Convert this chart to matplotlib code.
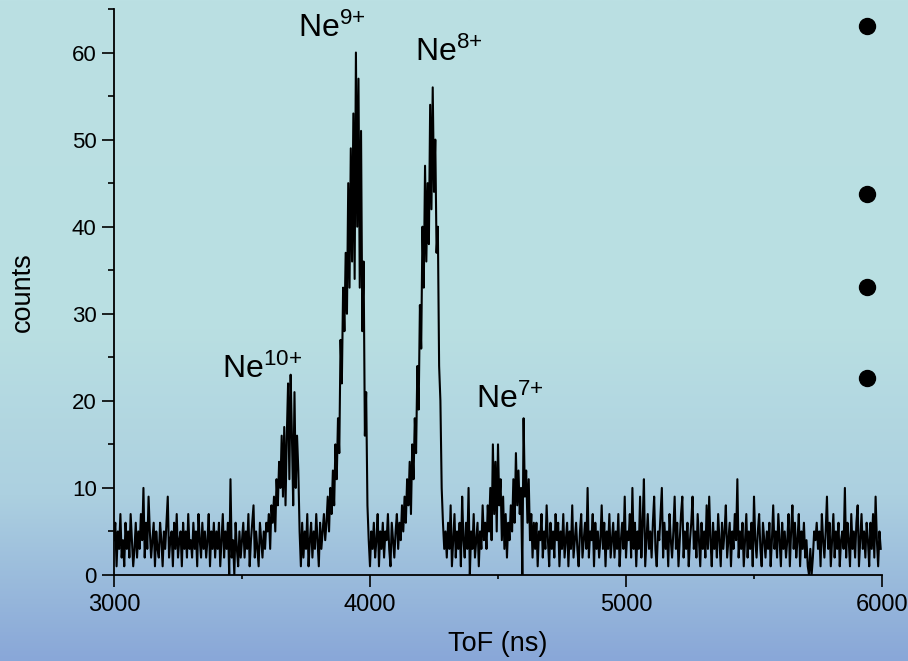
import numpy as np
import matplotlib
matplotlib.use("Agg")
import matplotlib.pyplot as plt
from matplotlib.colors import LinearSegmentedColormap

plt.rcParams["font.family"] = ["Liberation Sans", "DejaVu Sans"]
plt.rcParams["mathtext.fontset"] = "custom"
plt.rcParams["mathtext.rm"] = "Liberation Sans"
plt.rcParams["mathtext.it"] = "Liberation Sans:italic"

# spectre temps de vol, pas de 5 ns a partir de 3000 ns
TOF_START = 3000
TOF_STEP = 5

base_a = [4, 6, 1, 5, 3, 7, 2, 4, 1, 6, 3, 5, 2, 7, 4, 1, 3, 6, 2, 5,
          3, 7, 4, 10, 2, 6, 3, 9, 5, 2, 4, 6, 1, 5, 3, 2, 6, 4, 1, 5,
          3, 6, 9, 2, 4, 5, 1, 6, 3, 7, 2, 4, 5, 1, 6, 3, 5, 2, 7, 3,
          4, 2, 6, 3, 5, 1, 7, 4, 2, 6, 3, 5, 2, 4, 7, 1, 5, 3, 6, 2,
          5, 3, 6, 1, 4, 7, 2, 5, 3, 6, 0, 11, 2, 4, 0, 6, 3, 1, 5, 2,
          4, 6, 2, 5, 3, 7, 1, 4, 6, 8, 2, 5, 3, 1, 6, 4, 2, 5, 3, 6]
ne10 = [5, 7, 3, 8, 6, 9, 5, 11, 8, 13, 10, 16, 9, 17, 8, 16, 22, 11, 23, 16,
        8, 21, 10, 16, 12, 5, 1, 6]
base_b = [2, 5, 3, 7, 1, 4, 6, 2, 5, 3, 7, 4, 1, 6, 3, 5, 7, 4]
ne9 = [6, 9, 5, 10, 7, 12, 8, 15, 11, 18, 14, 27, 22, 33, 28, 37, 30, 45, 33, 49,
       36, 53, 34, 60, 40, 57, 33, 51, 28, 36, 16, 21, 8, 4]
base_c = [1, 5, 3, 6, 2, 4, 7, 1, 5, 3, 6, 2, 5, 4, 7, 3, 1, 6, 4, 2,
          5, 7, 3, 6, 4, 8]
ne8 = [5, 9, 6, 11, 8, 13, 7, 15, 11, 18, 14, 24, 19, 31, 26, 40, 33, 47, 36, 45,
       38, 54, 42, 56, 44, 50, 37, 40, 24, 20, 10, 6, 3]
base_d = [5, 2, 6, 3, 8, 1, 4, 7, 2, 5, 3, 6, 1, 9, 4, 2, 6, 3, 10, 0,
          5, 3, 7, 2, 4, 6, 1, 5, 3, 8, 4]
ne7 = [6, 3, 8, 5, 10, 4, 15, 7, 13, 5, 15, 8, 11, 4, 9, 3, 7, 2, 6, 4,
       8, 5, 11, 6, 14, 8, 12, 7, 10, 0, 18, 9, 12, 6, 11, 4, 7, 2, 6]
base_e = [3, 6, 1, 5, 4, 7, 2, 5, 3, 8, 4, 1, 6, 3, 5, 2, 7, 4, 6, 1,
          5, 3, 7, 2, 4, 6, 1, 5, 3, 8, 2, 4, 6, 3, 1, 5, 7, 2, 4, 6,
          3, 10, 2, 5, 4, 7, 1, 6, 3, 5, 2, 4, 8, 3, 6, 1, 5, 3, 7, 2,
          4, 6, 2, 5, 3, 7, 1, 4, 6, 3, 9, 2, 5, 4, 7, 2, 10, 3, 6, 1,
          5, 3, 9, 2, 6, 11, 1, 4, 7, 3, 5, 2, 6, 9, 3, 1, 5, 4, 7, 10,
          2, 6, 3, 5, 1, 7, 4, 2, 5, 9, 3, 6, 1, 4, 7, 9, 2, 5, 3, 6,
          1, 4, 6, 9, 3, 5, 2, 7, 4, 1, 6, 3, 5, 2, 8, 3, 9, 4, 1, 6,
          3, 5, 2, 7, 4, 1, 6, 3, 5, 8, 2, 4, 6, 1, 5, 3, 7, 4, 11, 2,
          5, 3, 6, 1, 4, 7, 2, 5, 3, 6, 1, 9, 4, 2, 5, 7, 3, 1, 6, 4,
          2, 5, 3, 6, 1, 4, 8, 3, 5, 2, 7, 4, 1, 6, 3, 5, 2, 4, 7, 1,
          5, 8, 3, 6, 2, 4, 7, 1, 5, 3, 6, 2, 4, 1, 0, 3, 0, 2, 5, 4,
          6, 3, 5, 1, 7, 4, 2, 5, 9, 3, 6, 1, 4, 7, 2, 5, 3, 6, 1, 4,
          5, 3, 10, 2, 6, 4, 1, 7, 3, 5, 2, 6, 8, 1, 4, 7, 3, 5, 2, 6,
          4, 1, 6, 3, 7, 2, 9, 4, 1, 5, 3]

counts = np.array(base_a + ne10 + base_b + ne9 + base_c + ne8 + base_d + ne7 + base_e)
tof = TOF_START + TOF_STEP * np.arange(len(counts))

# etiquettes des pics
labels = [r"Ne$^{\text{10+}}$", r"Ne$^{\text{9+}}$", r"Ne$^{\text{8+}}$", r"Ne$^{\text{7+}}$"]
label_x = [3422, 3719, 4176, 4414]
label_y = [22.6, 61.8, 59.0, 19.2]

# puces decoratives a droite
bullet_x = [5941, 5941, 5941, 5941]
bullet_y = [63.1, 43.7, 33.1, 22.6]

fig = plt.figure(figsize=(9.08, 6.61), dpi=100)

# fond degrade (turquoise clair -> bleu)
ax_bg = fig.add_axes([0, 0, 1, 1], zorder=-1)
cmap = LinearSegmentedColormap.from_list(
    "fond", [(0.0, "#bbe0e3"), (0.5, "#b9dfe2"), (0.75, "#acd0e0"), (1.0, "#89a7d8")])
grad = np.linspace(0, 1, 256).reshape(-1, 1)
ax_bg.imshow(grad, aspect="auto", cmap=cmap, extent=[0, 1, 1, 0])
ax_bg.axis("off")

ax = fig.add_axes([114 / 908, 86 / 661, 768 / 908, 566 / 661])
ax.patch.set_alpha(0)
ax.plot(tof, counts, color="black", linewidth=1.5)

ax.set_xlim(3000, 6000)
ax.set_ylim(0, 65)
ax.set_xticks([3000, 4000, 5000, 6000])
ax.set_xticks([3500, 4500, 5500], minor=True)
ax.set_yticks(np.arange(0, 61, 10))
ax.set_yticks(np.arange(5, 66, 10), minor=True)

for s in ["top", "right"]:
    ax.spines[s].set_visible(False)
for s in ["left", "bottom"]:
    ax.spines[s].set_linewidth(1.3)

ax.tick_params(axis="both", which="major", direction="out", width=1.2)
ax.tick_params(axis="y", which="major", length=8.5, pad=4, labelsize=16)
ax.tick_params(axis="y", which="minor", length=4.5, width=1.2)
ax.tick_params(axis="x", which="major", length=8.5, pad=5, labelsize=17)
ax.tick_params(axis="x", which="minor", length=3, width=1.2)

ax.set_xlabel("ToF (ns)", fontsize=19.5, labelpad=11)
ax.set_ylabel("counts", fontsize=19.5, labelpad=26)

for txt, x, y in zip(labels, label_x, label_y):
    ax.text(x, y, txt, fontsize=23, ha="left", va="baseline")

ax.plot(bullet_x, bullet_y, "o", color="black", markersize=11.5, clip_on=False)

fig.savefig("out.png", dpi=100)
